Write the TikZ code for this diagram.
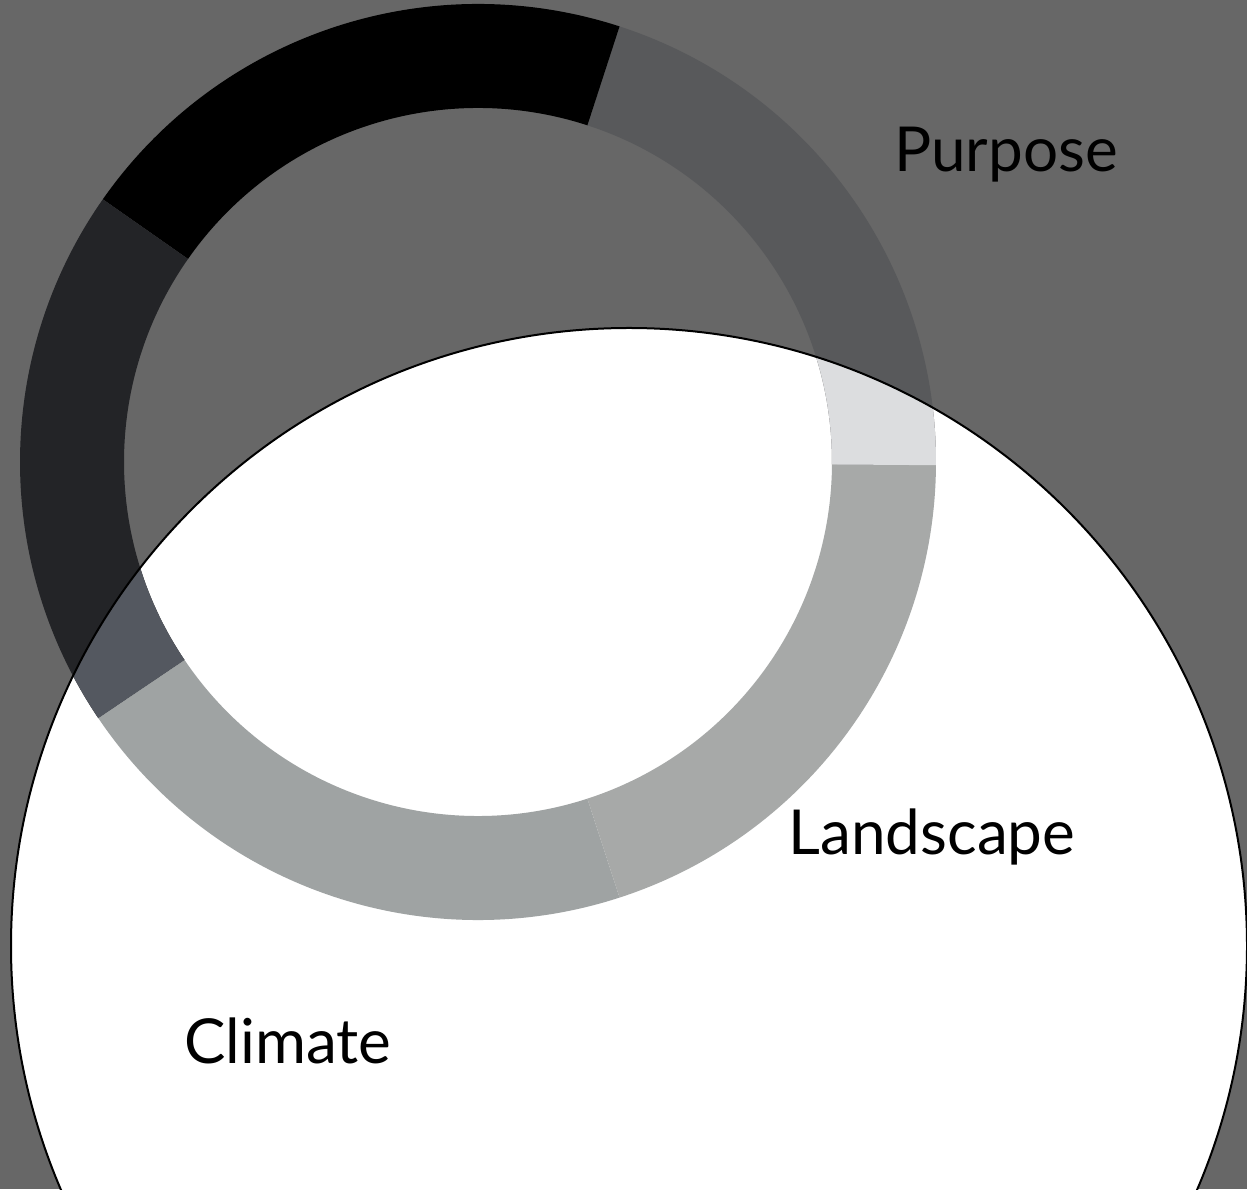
\documentclass[tikz,border=0pt]{standalone}
\usepackage{fontspec}
\setmainfont{Lato}
\begin{document}
\definecolor{bggray}{HTML}{676767}
\definecolor{slategray}{HTML}{58595B}
\definecolor{slatelight}{HTML}{DCDDDF}
\definecolor{charcoal}{HTML}{232427}
\definecolor{charcoallight}{HTML}{545860}
\definecolor{silverleft}{HTML}{9FA3A3}
\definecolor{silverright}{HTML}{A7A9A8}
\begin{tikzpicture}[x=0.5pt,y=0.5pt,
  label/.style={font=\fontsize{31}{36}\selectfont, text=black, anchor=base, inner sep=0pt},
  rim/.style={draw=black, line width=1pt}]
  % canvas
  \useasboundingbox (0,0) rectangle (1247,1189);
  \clip (0,0) rectangle (1247,1189);
  \fill[bggray] (0,0) rectangle (1247,1189);
  % large white disc
  \coordinate (disc) at (629,243);
  \fill[white] (disc) circle[radius=618];
  % ring segments: start angle, end angle, colour
  \newcommand{\seg}[3]{%
    \fill[#3] (#1:458) arc[start angle=#1, end angle=#2, radius=458]
      -- (#2:354) arc[start angle=#2, end angle=#1, radius=354] -- cycle;}
  \begin{scope}[shift={(478,727)}]
    \seg{-0.4}{72}{slategray}
    \seg{72}{145}{black}
    \seg{145}{214}{charcoal}
    \seg{214}{288}{silverleft}
    \seg{288}{359.6}{silverright}
  \end{scope}
  % the same segments seen over the white disc
  \begin{scope}
    \clip (disc) circle[radius=618];
    \begin{scope}[shift={(478,727)}]
      \seg{-0.4}{72}{slatelight}
      \seg{145}{214}{charcoallight}
    \end{scope}
  \end{scope}
  \draw[rim] (disc) circle[radius=618];
  % labels
  \node[label] (purpose) at (1006,1017) {Purpose};
  \node[label] (landscape) at (932,334) {Landscape};
  \node[label] (climate) at (288,126) {Climate};
\end{tikzpicture}
\end{document}
